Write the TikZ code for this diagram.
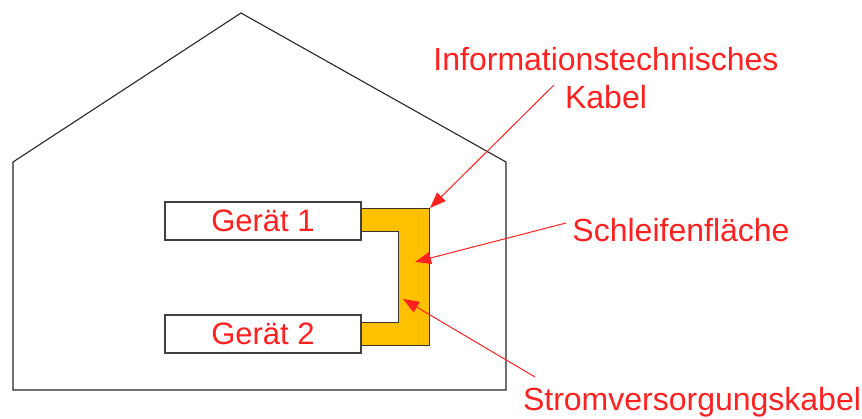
\documentclass[tikz,border=0pt]{standalone}
\usepackage{fontspec}
\setmainfont{Liberation Sans}
\usetikzlibrary{arrows.meta}
\definecolor{labelred}{HTML}{FF2020}
\definecolor{loopfill}{HTML}{FFC000}
\tikzset{
  wall/.style={draw=black!85, line width=1.1pt, line join=miter},
  device/.style={draw=black!75, line width=1.6pt, fill=white, minimum width=196pt, minimum height=38pt, inner sep=0pt, text=labelred, font=\fontsize{31}{33}\selectfont},
  label/.style={text=labelred, font=\fontsize{32}{38}\selectfont, inner sep=0pt, align=center},
  pointer/.style={draw=labelred, line width=1pt, -{Triangle[length=16pt,width=12pt]}},
}
\begin{document}
\begin{tikzpicture}[x=1pt, y=-1pt]
\useasboundingbox (0,0) rectangle (862,419);
% house outline
\draw[wall] (13,390) -- (506,390) -- (506,162) -- (241,13) -- (13,162) -- cycle;
% loop area between the two cables
\draw[fill=loopfill, draw=black!80, line width=1pt]
  (361,209) -- (429,209) -- (429,346) -- (361,346) -- (361,323)
  -- (398,323) -- (398,232) -- (361,232) -- cycle;
% devices
\node[device] (g1) at (263,221) {Gerät 1};
\node[device] (g2) at (263,334) {Gerät 2};
% labels
\node[label] (info) at (606,78) {Informationstechnisches\\Kabel};
\node[label] (loop) at (681,230) {Schleifenfläche};
\node[label] (power) at (692,402) {Stromversorgungskabel};
% pointer targets
\coordinate (infoT) at (430,208);
\coordinate (loopT) at (415,262);
\coordinate (powerT) at (403,299);
\coordinate (infoS) at (554,85);
\coordinate (loopS) at (566,223);
\coordinate (powerS) at (535,377);
\draw[pointer] (infoS) -- (infoT);
\draw[pointer] (loopS) -- (loopT);
\draw[pointer] (powerS) -- (powerT);
\end{tikzpicture}
\end{document}
